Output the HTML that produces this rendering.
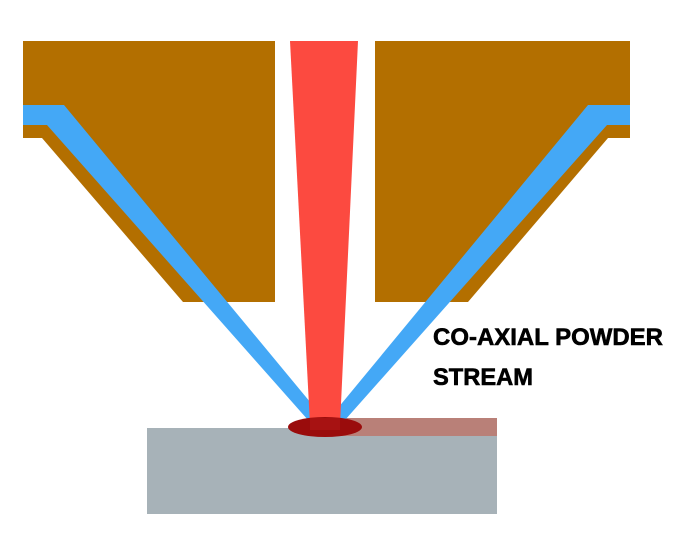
<!DOCTYPE html>
<html><head><style>html,body{margin:0;padding:0;background:#fff;}svg{display:block}</style></head>
<body>
<svg width="693" height="538" viewBox="0 0 693 538" xmlns="http://www.w3.org/2000/svg">
<rect width="693" height="538" fill="#fff"/>
<polygon points="23,41 275,41 275,302 183,302 42,138 23,138" fill="#b36f00"/>
<polygon points="375,41 630,41 630,138 608,138 468,302 375,302" fill="#b36f00"/>
<rect x="147" y="428" width="350" height="86" fill="#a7b2b8"/>
<rect x="340" y="418" width="157" height="18" fill="#b98078"/>
<polygon points="23,105 64,105 325,420 308,420 47,125 23,125" fill="#44a8f6"/>
<polygon points="630,105 588,105 328,420 345,420 607,125 630,125" fill="#44a8f6"/>
<polygon points="290,41 358,41 340,425 310,425" fill="#fc4a40"/>
<ellipse cx="325" cy="427" rx="37" ry="10" fill="#9a0c0c"/>
<rect x="310" y="418" width="30" height="12" fill="#c02020" opacity="0.35"/>
<text x="433" y="345" font-family="Liberation Sans, sans-serif" font-weight="bold" font-size="24" textLength="230" lengthAdjust="spacingAndGlyphs" fill="#000" stroke="#000" stroke-width="0.6">CO-AXIAL POWDER</text>
<text x="433" y="385" font-family="Liberation Sans, sans-serif" font-weight="bold" font-size="24" textLength="100" lengthAdjust="spacingAndGlyphs" fill="#000" stroke="#000" stroke-width="0.6">STREAM</text>
</svg>
</body></html>
